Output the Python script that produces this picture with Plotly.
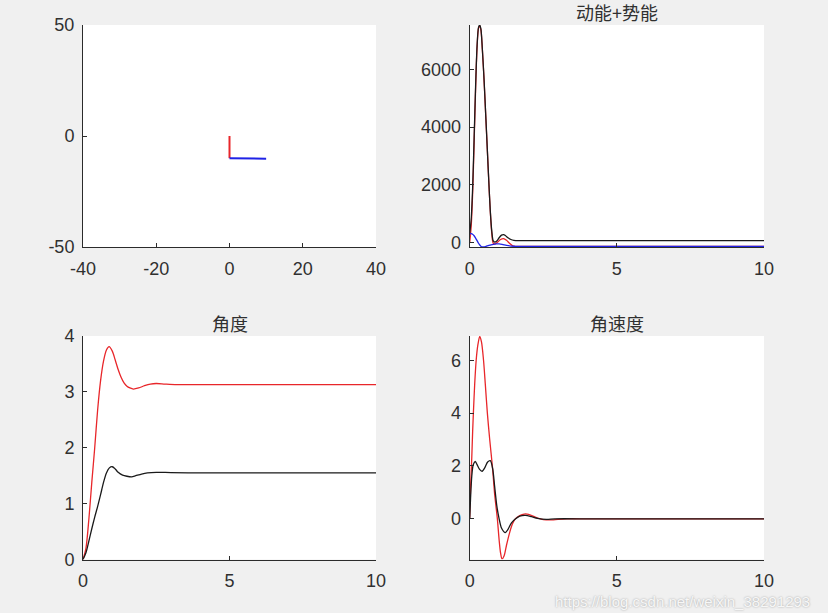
import plotly.graph_objects as go

# ---------------- data ----------------
# subplot 1: pendulum links
link1_x = [0, 0]
link1_y = [0, -10]
link2_x = [0, 10]
link2_y = [-10, -10.2]

# subplot 2: energy (动能+势能)
t_black_e = [0, 0.05, 0.1, 0.15, 0.2, 0.25, 0.3, 0.34, 0.38, 0.43, 0.49, 0.55, 0.6, 0.65, 0.7, 0.75,
             0.8, 0.85, 0.92, 1.0, 1.08, 1.15, 1.22, 1.3, 1.4, 1.5, 1.7, 2.0, 3.0, 5.0, 10.0]
e_black = [300, 800, 1900, 3600, 5400, 6800, 7450, 7530, 7400, 6700, 5600, 4300, 3200, 2100, 1100, 400,
           60, 20, 60, 170, 260, 280, 240, 170, 110, 80, 70, 70, 70, 70, 70]
t_red_e = [0, 0.05, 0.1, 0.15, 0.2, 0.25, 0.3, 0.34, 0.38, 0.43, 0.49, 0.55, 0.6, 0.65, 0.7, 0.75,
           0.8, 0.87, 0.95, 1.05, 1.15, 1.25, 1.35, 1.45, 1.55, 1.7, 2.0, 3.0, 5.0, 10.0]
e_red = [0, 550, 1700, 3450, 5300, 6750, 7420, 7500, 7370, 6680, 5580, 4280, 3180, 2080, 1080, 330,
         -20, -40, 20, 110, 140, 80, -20, -100, -125, -125, -125, -125, -125, -125]
t_blue_e = [0, 0.05, 0.1, 0.15, 0.2, 0.25, 0.3, 0.35, 0.4, 0.47, 0.55, 0.65, 0.76, 0.9, 1.0, 1.1,
            1.25, 1.4, 1.55, 2.0, 3.0, 5.0, 10.0]
e_blue = [310, 310, 290, 240, 160, 70, -20, -90, -140, -150, -130, -95, -70, -45, -45, -60,
          -95, -120, -125, -125, -125, -125, -125]

# subplot 3: angles (角度)
t_ang = [0, 0.1, 0.2, 0.3, 0.4, 0.5, 0.6, 0.7, 0.8, 0.89, 1.0, 1.1, 1.2, 1.3, 1.4, 1.5, 1.6,
         1.72, 1.9, 2.1, 2.3, 2.5, 2.8, 3.2, 4.0, 6.0, 10.0]
ang_red = [0, 0.2, 0.72, 1.38, 2.0, 2.68, 3.2, 3.55, 3.75, 3.81, 3.73, 3.57, 3.4, 3.26, 3.16, 3.1, 3.07,
           3.05, 3.07, 3.11, 3.14, 3.15, 3.14, 3.13, 3.13, 3.13, 3.13]
t_ang_b = [0, 0.1, 0.2, 0.3, 0.4, 0.5, 0.6, 0.7, 0.8, 0.9, 1.0, 1.1, 1.2, 1.35, 1.5, 1.66, 1.8,
           2.0, 2.2, 2.5, 3.0, 4.0, 6.0, 10.0]
ang_black = [0, 0.12, 0.33, 0.55, 0.76, 0.95, 1.16, 1.38, 1.55, 1.64, 1.66, 1.62, 1.56, 1.51, 1.49, 1.48, 1.5,
             1.53, 1.55, 1.56, 1.555, 1.55, 1.55, 1.55]

# subplot 4: angular velocity (角速度)
t_vel_r = [0, 0.03, 0.07, 0.1, 0.125, 0.17, 0.22, 0.28, 0.34, 0.4, 0.47, 0.53, 0.6, 0.68, 0.77, 0.85,
           0.94, 1.0, 1.05, 1.1, 1.17, 1.25, 1.35, 1.45, 1.55, 1.7, 1.85, 2.0, 2.2, 2.4, 2.6, 2.8,
           3.0, 3.3, 4.0, 6.0, 10.0]
vel_red = [0, 1.2, 2.3, 3.3, 4.0, 5.1, 6.0, 6.6, 6.9, 6.7, 6.0, 5.1, 4.0, 3.0, 2.0, 0.9,
           0, -0.8, -1.3, -1.52, -1.4, -1.0, -0.55, -0.2, 0, 0.12, 0.18, 0.17, 0.08, 0, -0.04, -0.04,
           -0.02, 0, 0, 0, 0]
t_vel_b = [0, 0.03, 0.07, 0.12, 0.19, 0.25, 0.33, 0.42, 0.52, 0.61, 0.7, 0.78, 0.85, 0.92, 1.0, 1.08,
           1.2, 1.3, 1.42, 1.56, 1.7, 1.9, 2.1, 2.3, 2.6, 2.9, 4.0, 6.0, 10.0]
vel_black = [0, 0.8, 1.6, 2.05, 2.17, 2.05, 1.88, 1.8, 1.95, 2.15, 2.2, 1.9, 1.2, 0.5, 0, -0.35,
             -0.52, -0.4, -0.15, 0, 0.1, 0.13, 0.08, 0.02, -0.02, 0, 0, 0, 0]

# tick values / labels
ticks1_x = [-40, -20, 0, 20, 40]
ticks1_y = [-50, 0, 50]
ticks_t = [0, 5, 10]
ticks2_y = [0, 2000, 4000, 6000]
ticks3_y = [0, 1, 2, 3, 4]
ticks4_y = [0, 2, 4, 6]

titles = ["动能+势能", "角度", "角速度"]
watermark = "https://blog.csdn.net/weixin_38291293"

# ---------------- figure ----------------
W, H = 828, 613
RED = "#e8262a"
BLUE = "#1f22e6"
BLACK = "#1a1a1a"
AX = "#2b2b2b"

fig = go.Figure()

def line(x, y, color, xa, ya, width=1.3):
    fig.add_trace(go.Scatter(x=x, y=y, mode="lines", xaxis=xa, yaxis=ya,
                             line=dict(color=color, width=width, shape="spline", smoothing=0.8),
                             showlegend=False, hoverinfo="skip"))

fig.add_trace(go.Scatter(x=link1_x, y=link1_y, mode="lines", xaxis="x", yaxis="y",
                         line=dict(color=RED, width=2), showlegend=False))
fig.add_trace(go.Scatter(x=link2_x, y=link2_y, mode="lines", xaxis="x", yaxis="y",
                         line=dict(color=BLUE, width=2), showlegend=False))

line(t_red_e, e_red, RED, "x2", "y2")
line(t_black_e, e_black, BLACK, "x2", "y2")
line(t_blue_e, e_blue, BLUE, "x2", "y2")

line(t_ang, ang_red, RED, "x3", "y3")
line(t_ang_b, ang_black, BLACK, "x3", "y3")

line(t_vel_r, vel_red, RED, "x4", "y4")
line(t_vel_b, vel_black, BLACK, "x4", "y4")

# domains in pixels
L1, R1 = 83, 376
L2, R2 = 469.7, 764
T1, B1 = 25, 247
T2, B2 = 336, 559.5

def xd(a, b):
    return [a / W, b / W]

def yd(top, bot):
    return [1 - bot / H, 1 - top / H]

tickfont = dict(family="Liberation Sans, Arial, sans-serif", size=18, color="#303030")

def axis(domain, rng, tickvals, anchor, standoff):
    return dict(domain=domain, range=rng, tickvals=tickvals,
                ticktext=[str(v) for v in tickvals], anchor=anchor,
                automargin=False,
                showline=True, linecolor=AX, linewidth=1, mirror=False,
                showgrid=False, zeroline=False, ticks="inside", ticklen=4,
                tickcolor=AX, tickwidth=1, tickfont=tickfont,
                ticklabelstandoff=standoff, fixedrange=True)

fig.update_layout(
    width=W, height=H,
    margin=dict(l=0, r=0, t=0, b=0, autoexpand=False),
    paper_bgcolor="#f0f0f0",
    plot_bgcolor="#ffffff",
    showlegend=False,
    xaxis=axis(xd(L1, R1), [-40, 40], ticks1_x, "y", 5),
    yaxis=axis(yd(T1, B1), [-50, 50], ticks1_y, "x", 4),
    xaxis2=axis(xd(L2, R2), [0, 10], ticks_t, "y2", 5),
    yaxis2=axis(yd(T1, B1), [-150, 7530], ticks2_y, "x2", 4),
    xaxis3=axis(xd(L1, R1), [0, 10], ticks_t, "y3", 5),
    yaxis3=axis(yd(T2, B2), [0, 4], ticks3_y, "x3", 4),
    xaxis4=axis(xd(L2, R2), [0, 10], ticks_t, "y4", 5),
    yaxis4=axis(yd(T2, B2), [-1.54, 6.92], ticks4_y, "x4", 4),
)

titlefont = dict(family="Noto Sans CJK SC, sans-serif", size=18, color="#303030")
title_pos = [((L2 + R2) / 2, 12), ((L1 + R1) / 2, 322.5), ((L2 + R2) / 2, 322.5)]
for txt, (px, py) in zip(titles, title_pos):
    fig.add_annotation(text=txt, x=px / W, y=1 - py / H, xref="paper", yref="paper",
                       xanchor="center", yanchor="middle", showarrow=False, font=titlefont)

fig.add_annotation(text=watermark, x=682 / W, y=1 - 601 / H, xref="paper", yref="paper",
                   xanchor="center", yanchor="middle", showarrow=False,
                   font=dict(family="Liberation Sans, Arial, sans-serif", size=15, color="#f7f7f7",
                             shadow="0px 0px 2px #9a9a9a"))

fig.write_html("out.html", config={"displayModeBar": False},
               post_script="document.body.style.margin='0';document.body.style.overflow='hidden';")
